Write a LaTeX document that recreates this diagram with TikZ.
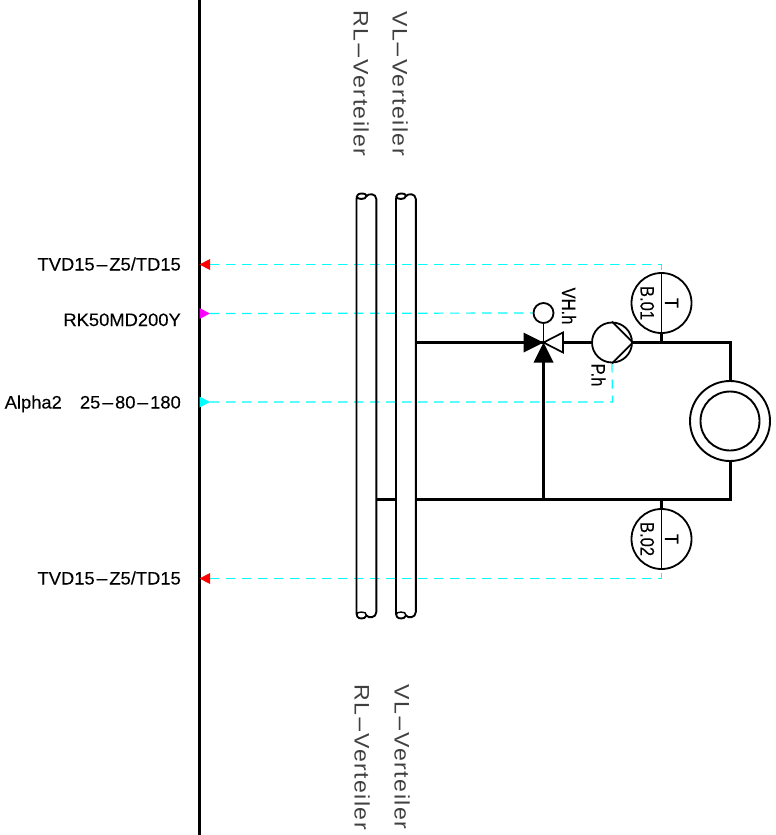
\documentclass[tikz,border=0pt]{standalone}
\usepackage{fontspec}
\usepackage{graphicx}
\setmainfont[FakeStretch=1.02,FakeBold=0.15]{Liberation Sans}
\newfontfamily\wide[FakeStretch=1.1,LetterSpace=7]{Liberation Sans}
\newfontfamily\narrowf[FakeStretch=0.85,FakeBold=0.15]{Liberation Sans}
\newcommand{\hy}{\scalebox{2.4}[1]{-}}
\usetikzlibrary{calc}
\definecolor{dashcyan}{RGB}{0,255,255}
\definecolor{tipcyan}{RGB}{0,255,255}
\definecolor{tipmag}{RGB}{255,0,255}
\definecolor{tipred}{RGB}{255,0,0}
\tikzset{
  lab/.style={inner sep=0pt,text height=13pt,text depth=0pt,font=\fontsize{18}{18}\selectfont,anchor=east},
  dist/.style={inner sep=0pt,text height=15pt,text depth=0pt,font=\wide\fontsize{21}{21}\selectfont,rotate=-90,text=black!75},
  small/.style={inner sep=0pt,text height=14pt,text depth=0pt,font=\narrowf\fontsize{19.5}{20}\selectfont,rotate=-90},
  pipe/.style={line width=3pt},
  thin line/.style={line width=1.8pt},
  sig/.style={draw=dashcyan,line width=1.2pt,dash pattern=on 9pt off 7pt},
  sensor/.style={circle,draw,line width=1.8pt,minimum size=60pt,inner sep=0pt,fill=white},
}
\begin{document}
\begin{tikzpicture}[x=1pt,y=-1pt]
\useasboundingbox (0,0) rectangle (776,835);
% border line
\coordinate (b1) at (199.5,0); \coordinate (b2) at (199.5,835);
\draw[line width=2.2pt] (b1) -- (b2);
% anchor points
\coordinate (sT1) at (210,264.5); \coordinate (sM) at (210,313.5);
\coordinate (sC) at (210,402); \coordinate (sT2) at (210,578.5);
\node[sensor] (B1) at (661.5,303) {};
\node[sensor] (B2) at (661.5,539) {};
\node[circle,draw,line width=1.8pt,minimum size=20pt,inner sep=0pt] (act) at (543.5,313) {};
\node[circle,draw,line width=1.8pt,minimum size=40pt,inner sep=0pt] (pump) at (612,342.5) {};
\node[circle,draw,line width=1.9pt,minimum size=80pt,inner sep=0pt] (hx) at (730,421) {};
\node[circle,draw,line width=1.9pt,minimum size=59pt,inner sep=0pt] (hxi) at (730,421) {};
\coordinate (v) at (543.5,342.5);
% signal lines
\draw[sig] (sT1) -- (B1.north |- sT1) -- (B1.north);
\draw[sig] (sM) -- (act.west);
\draw[sig] (sC) -- (612.5,402) -- (pump.south);
\draw[sig] (sT2) -- (B2.south |- sT2) -- (B2.south);
% arrow tips at the border
\fill[tipred] (199.5,264.5) -- (210,259) -- (210,270) -- cycle;
\fill[tipmag] (210,313.5) -- (199.5,308) -- (199.5,319) -- cycle;
\fill[tipcyan] (210,402) -- (199.5,396.5) -- (199.5,407.5) -- cycle;
\fill[tipred] (199.5,578.5) -- (210,573) -- (210,584) -- cycle;
% distributors
\foreach \n/\x in {rl/356.5,vl/396}{
  \draw[line width=1.9pt] (\x,612) -- (\x,199)
     .. controls (\x,196) and (\x+1,193.5) .. (\x+5,193.5)
     .. controls (\x+9,193.5) and (\x+10,195) .. (\x+10,196)
     .. controls (\x+10,198) and (\x+7,199) .. (\x+5,199)
     .. controls (\x+2,199) and (\x,198) .. (\x,196);
  \draw[line width=1.9pt] (\x+10,196)
     .. controls (\x+12,193.5) and (\x+19.5,193) .. (\x+19.8,199) -- (\x+19.8,612)
     .. controls (\x+19.8,618) and (\x+12,618.5) .. (\x+10,615.5)
     .. controls (\x+9,618) and (\x+7,618.5) .. (\x+5,618.5)
     .. controls (\x+1,618.5) and (\x,616) .. (\x,612);
  \draw[line width=1.4pt] (\x+10,615.5) .. controls (\x+10,613) and (\x+8,612) .. (\x+5,612)
     .. controls (\x+2,612) and (\x,613) .. (\x,615);
}
% pipes
\coordinate (pA) at (416,342.5);
\coordinate (c1) at (730,342.5);
\coordinate (c2) at (730,499.5);
\coordinate (pB) at (376.5,499.5);
\draw[pipe] (pA) -- (v);
\draw[pipe] (563,342.5) -- (pump.west);
\draw[pipe] (pump.east) -- (c1) -- (hx.north);
\draw[pipe] (hx.south) -- (c2) -- (416,499.5);
\draw[pipe] (395.5,499.5) -- (pB);
\draw[pipe] (543.5,360) -- (543.5,499.5);
\draw[pipe] (661.5,342.5) -- (B1.south);
\draw[pipe] (661.5,499.5) -- (B2.north);
\draw[thin line] (B1.north) -- (B1.south);
\draw[thin line] (B2.north) -- (B2.south);
\draw[thin line] (act.south) -- (v);
% valve
\fill (v) -- (523.5,332.5) -- (523.5,352.5) -- cycle;
\fill (v) -- (533.5,362.5) -- (553.5,362.5) -- cycle;
\draw[line width=1.7pt,fill=white] (v) -- (563,332.5) -- (563,352.5) -- cycle;
% pump triangle
\draw[thin line] (pump.north) -- (pump.east) -- (pump.south);
% labels
\node[lab] (l1) at (181,264) {TVD15\hy Z5/TD15};
\node[lab] (l2) at (181,319.5) {RK50MD200Y};
\node[lab] (l3) at (181,402) {Alpha2\hspace{13pt} 25\hy 80\hy 180};
\node[lab] (l4) at (181,578) {TVD15\hy Z5/TD15};
\node[dist] (t1) at (361,83.5) {RL\hy Verteiler};
\node[dist] (t2) at (400,83.5) {VL\hy Verteiler};
\node[dist] (t3) at (362,757) {RL\hy Verteiler};
\node[dist] (t4) at (402,757) {VL\hy Verteiler};
\node[small] (t5) at (569,306) {VH.h};
\node[small] (t6) at (598.5,375) {P.h};
\node[small] (t7) at (672,303) {T};
\node[small] (t8) at (647.5,303) {B.01};
\node[small] (t9) at (672,539) {T};
\node[small] (t10) at (647.5,539) {B.02};
\end{tikzpicture}
\end{document}
